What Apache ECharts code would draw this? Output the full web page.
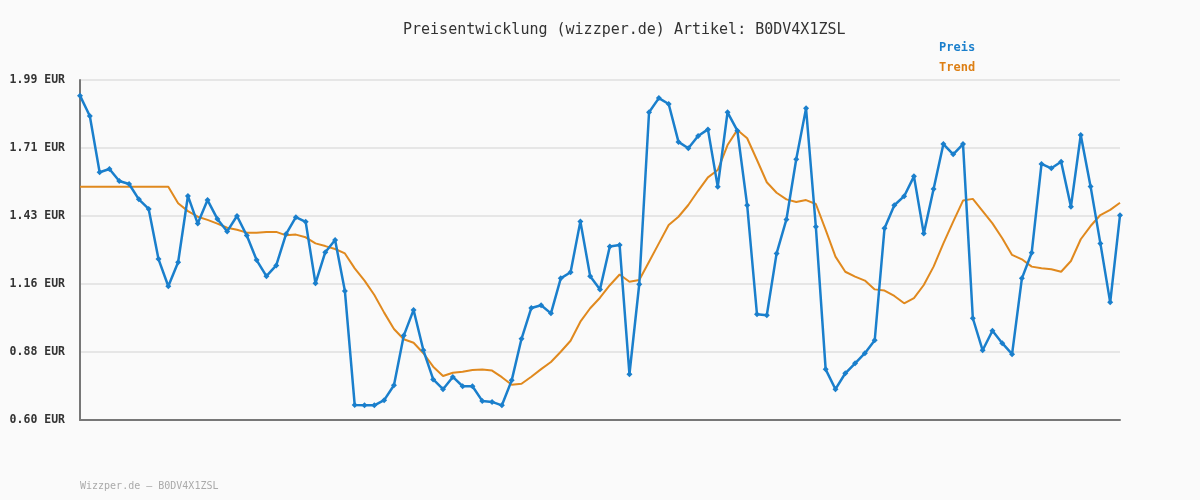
<!DOCTYPE html>
<html>
<head>
<meta charset="utf-8">
<script src="https://cdn.jsdelivr.net/npm/echarts@6/dist/echarts.min.js"></script>
<style>
html,body{margin:0;padding:0;background:#fafafa;}
#chart{width:1200px;height:500px;}
</style>
</head>
<body>
<div id="chart"></div>
<script>
// Preis (EUR)
var preis=[1.926,1.843,1.613,1.626,1.577,1.565,1.502,1.463,1.258,1.147,
    1.245,1.516,1.403,1.499,1.422,1.371,1.434,1.354,1.254,1.188,
    1.232,1.360,1.429,1.410,1.159,1.286,1.336,1.127,0.661,0.660,
    0.660,0.681,0.742,0.945,1.050,0.885,0.766,0.726,0.776,0.738,
    0.738,0.678,0.674,0.660,0.762,0.932,1.058,1.069,1.036,1.179,
    1.204,1.412,1.188,1.134,1.309,1.315,0.787,1.155,1.858,1.916,
    1.892,1.737,1.711,1.761,1.788,1.554,1.858,1.783,1.478,1.032,
    1.028,1.281,1.420,1.666,1.874,1.390,0.807,0.726,0.791,0.832,
    0.873,0.926,1.384,1.478,1.515,1.596,1.362,1.544,1.728,1.686,
    1.728,1.016,0.885,0.965,0.914,0.869,1.179,1.284,1.647,1.629,
    1.656,1.472,1.765,1.555,1.322,1.081,1.437];
// Trend (EUR)
var trend=[1.554,1.554,1.554,1.554,1.554,1.554,1.554,1.554,1.554,1.554,
    1.486,1.454,1.431,1.418,1.403,1.386,1.378,1.366,1.366,1.369,
    1.369,1.355,1.358,1.347,1.322,1.311,1.299,1.281,1.220,1.170,
    1.111,1.039,0.972,0.930,0.916,0.873,0.818,0.780,0.793,0.797,
    0.804,0.806,0.802,0.775,0.744,0.748,0.777,0.808,0.837,0.879,
    0.924,1.002,1.057,1.100,1.151,1.195,1.165,1.172,1.247,1.322,
    1.397,1.431,1.479,1.537,1.592,1.622,1.724,1.786,1.752,1.663,
    1.572,1.529,1.502,1.491,1.499,1.483,1.377,1.268,1.206,1.186,
    1.170,1.134,1.129,1.107,1.077,1.098,1.152,1.227,1.322,1.411,
    1.497,1.504,1.454,1.404,1.343,1.275,1.257,1.227,1.220,1.216,
    1.206,1.250,1.339,1.393,1.438,1.459,1.488];
var yTicks=['0.60 EUR','0.88 EUR','1.16 EUR','1.43 EUR','1.71 EUR','1.99 EUR'];
var artikel='B0DV4X1ZSL';

var days=[];
for(var i=0;i<preis.length;i++){
    days.push(i+1);
}

var chart=echarts.init(document.getElementById('chart'));
var mono='"DejaVu Sans Mono", monospace';
var option={
    backgroundColor:'#fafafa',
    animation:false,
    title:{
        text:'Preisentwicklung (wizzper.de) Artikel: '+artikel,
        left:398,
        top:18,
        textStyle:{
            fontFamily:mono,
            fontSize:15,
            fontWeight:'normal',
            color:'#333'
        }
    },
    legend:{
        orient:'vertical',
        left:929,
        top:37,
        itemGap:8,
        itemWidth:0,
        itemHeight:0,
        selectedMode:false,
        textStyle:{fontFamily:mono,fontSize:12,fontWeight:'bold'},
        data:[
            {name:'Preis',icon:'rect',textStyle:{color:'#1a7fcc'}},
            {name:'Trend',icon:'rect',textStyle:{color:'#dd7f14'}}
        ]
    },
    graphic:[{
        type:'text',
        left:80,
        top:481,
        style:{
            text:'Wizzper.de \u2013 '+artikel,
            fontFamily:mono,
            fontSize:10,
            fill:'#aaa'
        }
    }],
    grid:{left:80,right:80,top:80,bottom:80},
    xAxis:{
        type:'category',
        boundaryGap:false,
        data:days,
        axisLine:{lineStyle:{color:'#777',width:2}},
        axisTick:{show:false},
        axisLabel:{show:false},
        splitLine:{show:false}
    },
    yAxis:{
        type:'value',
        min:0.6,
        max:1.99,
        interval:0.278,
        axisLine:{show:true,lineStyle:{color:'#777',width:2}},
        axisTick:{show:false},
        axisLabel:{
            margin:15,
            fontFamily:mono,
            fontSize:11.5,
            fontWeight:'bold',
            color:'#333',
            formatter:function(v){
                return yTicks[Math.round((v-0.6)/0.278)];
            }
        },
        splitLine:{lineStyle:{color:'#e6e6e6',width:2}}
    },
    series:[
        {
            name:'Preis',
            type:'line',
            data:preis,
            symbol:'diamond',
            symbolSize:6,
            showAllSymbol:true,
            itemStyle:{color:'#1a7fcc'},
            lineStyle:{color:'#1a7fcc',width:2.5},
            z:3
        },
        {
            name:'Trend',
            type:'line',
            data:trend,
            symbol:'none',
            itemStyle:{color:'#dd7f14'},
            lineStyle:{color:'#e0891e',width:2},
            z:2
        }
    ]
};
chart.setOption(option);
</script>
</body>
</html>
